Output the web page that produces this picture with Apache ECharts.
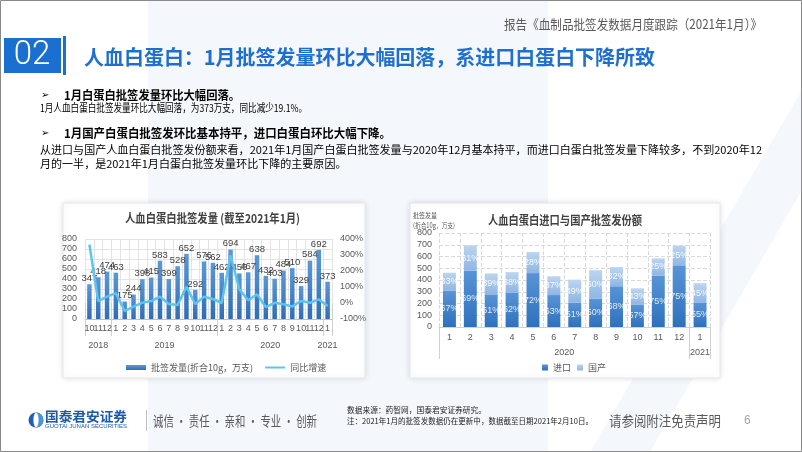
<!DOCTYPE html>
<html><head><meta charset="utf-8">
<script src="https://cdn.jsdelivr.net/npm/echarts@6/dist/echarts.min.js"></script>
<style>html,body{margin:0;padding:0;background:#fff}#c{width:802px;height:452px}</style>
</head><body><div id="c"></div>
<script>
// ---------- data ----------
const monthLabelsA = ['10','11','12','1','2','3','4','5','6','7','8','9','10','11','12','1','2','3','4','5','6','7','8','9','10','11','12','1'];
const yearLabelsA = ['2018','2019','2020','2021'];
const yearSizesA = [3, 12, 12, 1];
const issueVolume = [347,418,474,463,175,244,398,415,583,399,528,652,292,576,562,462,694,456,467,638,432,403,484,510,329,584,692,373];
const yoyGrowth = [365,12,40,62,-50,-23,2,12,40,-6,-12,102,-6,40,25,0,297,85,17,54,-26,1,-8,-22,13,1,23,-19.1];

const monthLabelsB = ['1','2','3','4','5','6','7','8','9','10','11','12','1'];
const yearLabelsB = ['2020','2021'];
const yearSizesB = [12, 1];
const importVol   = [310,479,278,290,459,272,206,242,347,188,438,519,205];
const domesticVol = [152,215,178,177,179,160,197,242,163,141,146,173,168];

const seriesNamesA = ['批签发量(折合10g，万支)', '同比增速'];
const seriesNamesB = ['进口', '国产'];

// ---------- helpers ----------
const FONT = '"Noto Sans CJK SC", "Noto Sans", sans-serif';
const NUMFONT = '"Liberation Sans", "Noto Sans CJK SC", sans-serif';
const mctx = document.createElement('canvas').getContext('2d');
function measure(s, size, weight, family) {
  mctx.font = (weight || 'normal') + ' ' + size + 'px ' + (family || FONT);
  return mctx.measureText(s).width;
}
function txt(s, x, y, w, size, opt) {
  opt = opt || {};
  const weight = opt.weight || 'normal';
  const family = opt.family || FONT;
  const m = measure(s, size, weight, family);
  const sx = opt.scale ? opt.scale : (w ? w / m : 1);
  return { type: 'text', x: x, y: y, scaleX: sx, z: 10, silent: true,
    style: { text: s, x: 0, y: 0, fontSize: size, fontWeight: weight, fontFamily: family,
      fill: opt.color || '#333', align: opt.align || 'left', verticalAlign: 'middle',
      textAlign: opt.align || 'left', textVerticalAlign: 'middle' } };
}
function groupInfo(sizes) {
  const bounds = [0], mids = [];
  let acc = 0;
  sizes.forEach(n => { mids.push(acc + n / 2); acc += n; bounds.push(acc); });
  return { bounds, mids, total: acc };
}
const gA = groupInfo(yearSizesA);
const gB = groupInfo(yearSizesB);

const chart = echarts.init(document.getElementById('c'), null, { renderer: 'canvas' });

const barGradA = new echarts.graphic.LinearGradient(0, 0, 0, 1, [
  { offset: 0, color: '#5a98d8' }, { offset: 1, color: '#2f6eb6' }]);
const impGrad = new echarts.graphic.LinearGradient(0, 0, 0, 1, [
  { offset: 0, color: '#5894d6' }, { offset: 1, color: '#2d71bd' }]);
const domGrad = new echarts.graphic.LinearGradient(0, 0, 0, 1, [
  { offset: 0, color: '#bcd5f0' }, { offset: 1, color: '#8fb6e3' }]);

const gray = '#595959';
const longLine = '从进口与国产人血白蛋白批签发份额来看，2021年1月国产白蛋白批签发量与2020年12月基本持平，而进口白蛋白批签发量下降较多，不到2020年12';
const bodyScale = 722 / measure(longLine, 11);

const elements = [
  // background tint
  { type: 'rect', z: -5, silent: true, shape: { x: 148, y: 0, width: 400, height: 452 }, style: { fill: '#f4f7fb' } },
  { type: 'polygon', z: -5, silent: true, shape: { points: [[802, 90], [802, 190], [650, 452], [590, 452]] }, style: { fill: '#f4f7fb' } },
  // slide border
  { type: 'rect', z: 20, silent: true, shape: { x: 0.5, y: 0.5, width: 801, height: 451 }, style: { fill: 'none', stroke: '#8a8a8a', lineWidth: 1 } },
  // cards
  { type: 'rect', z: -4, silent: true, shape: { x: 63, y: 203, width: 302, height: 175 },
    style: { fill: '#fff', stroke: '#e4e8ee', lineWidth: 1, shadowBlur: 6, shadowColor: 'rgba(0,0,0,0.12)' } },
  { type: 'rect', z: -4, silent: true, shape: { x: 410, y: 203, width: 310, height: 175 },
    style: { fill: '#fff', stroke: '#e4e8ee', lineWidth: 1, shadowBlur: 6, shadowColor: 'rgba(0,0,0,0.12)' } },
  // header
  txt('报告《血制品批签发数据月度跟踪（2021年1月）》', 504, 24, 258, 13, { color: gray }),
  { type: 'rect', z: 5, silent: true, shape: { x: 4, y: 38, width: 57, height: 35 }, style: { fill: '#1a6fd0' } },
  { type: 'text', z: 10, silent: true, x: 32, y: 56,
    style: { text: '02', fontSize: 33, fontWeight: 300, fontFamily: 'Roboto, "Noto Sans", sans-serif', fill: '#fff', align: 'center', verticalAlign: 'middle' } },
  { type: 'rect', z: 5, silent: true, shape: { x: 63, y: 36, width: 3, height: 39 }, style: { fill: '#1a6fd0' } },
  txt('人血白蛋白：1月批签发量环比大幅回落，系进口白蛋白下降所致', 84, 57, 571, 20, { weight: 'bold', color: '#1f6fcf' }),
  // body
  txt('➢', 41, 95, 0, 10, { family: '"DejaVu Sans", sans-serif', color: '#000' }),
  txt('1月白蛋白批签发量环比大幅回落。', 64, 95, 176, 12, { weight: 'bold', color: '#000' }),
  txt('1月人血白蛋白批签发量环比大幅回落，为373万支，同比减少19.1%。', 40, 108, 267, 11, { color: '#000' }),
  txt('➢', 41, 133, 0, 10, { family: '"DejaVu Sans", sans-serif', color: '#000' }),
  txt('1月国产白蛋白批签发环比基本持平，进口白蛋白环比大幅下降。', 64, 133, 327, 12, { weight: 'bold', color: '#000' }),
  txt(longLine, 40, 150, 0, 11, { color: '#000', scale: bodyScale }),
  txt('月的一半，是2021年1月白蛋白批签发量环比下降的主要原因。', 40, 164, 0, 11, { color: '#000', scale: bodyScale }),
  // chart titles
  txt('人血白蛋白批签发量 (截至2021年1月)', 125, 218, 175, 12, { weight: 'bold', color: '#404040' }),
  txt('人血白蛋白进口与国产批签发份额', 488, 220, 154, 12, { weight: 'bold', color: '#404040' }),
  txt('批签发量', 413, 215, 24, 7, { color: gray }),
  txt('(折合10g，万支)', 413, 225, 42, 7, { color: gray }),
  // footer
  { type: 'circle', z: 10, silent: true, shape: { cx: 36, cy: 420, r: 7.5 }, style: { fill: '#1c5fb5' } },
  { type: 'rect', z: 10, silent: true, shape: { x: 36, y: 412, width: 7.5, height: 16, r: 0 }, style: { fill: '#4a94db' },
    clipPath: { type: 'circle', shape: { cx: 36, cy: 420, r: 7.5 } } },
  { type: 'ellipse', z: 11, silent: true, shape: { cx: 36, cy: 420, rx: 2.6, ry: 7.2 }, style: { fill: '#fff' } },
  txt('国泰君安证券', 45, 416, 82, 13, { weight: 'bold', color: '#1c5aa8' }),
  txt('GUOTAI JUNAN SECURITIES', 45, 426.5, 82, 5, { family: NUMFONT, color: '#1c5aa8' }),
  { type: 'rect', z: 10, silent: true, shape: { x: 146, y: 410, width: 1, height: 21 }, style: { fill: '#bfbfbf' } },
  txt('诚信 · 责任 · 亲和 · 专业 · 创新', 153, 421, 164, 14, { color: gray }),
  txt('数据来源：药智网，国泰君安证券研究。', 347, 410, 139, 8, { color: '#222' }),
  txt('注：2021年1月的批签发数据仍在更新中，数据截至日期2021年2月10日。', 347, 421, 246, 8, { color: '#222' }),
  txt('请参阅附注免责声明', 609, 421, 112, 14, { color: gray }),
  txt('6', 744, 421, 0, 12, { family: NUMFONT, color: '#a6a6a6' })
];

const axLbl = { fontSize: 9, color: gray, fontFamily: NUMFONT };

const option = {
  animation: false,
  graphic: { elements: elements },
  legend: [
    { left: 121, top: 358, itemWidth: 20, itemHeight: 5, itemGap: 12,
      data: [{ name: seriesNamesA[0], icon: 'rect' },
             { name: seriesNamesA[1], icon: 'path://M0,0 L20,0 L20,2 L0,2 Z' }],
      textStyle: { fontSize: 9, color: gray, fontFamily: FONT } },
    { left: 537, top: 358, itemWidth: 6, itemHeight: 6, itemGap: 6, icon: 'rect', data: seriesNamesB,
      textStyle: { fontSize: 9, color: gray, fontFamily: FONT } }
  ],
  grid: [
    { left: 85, right: 802 - 332, top: 239, bottom: 452 - 319, outerBoundsMode: 'none', containLabel: false },
    { left: 439, right: 802 - 710.5, top: 233, bottom: 452 - 327, outerBoundsMode: 'none', containLabel: false }
  ],
  xAxis: [
    { type: 'category', gridIndex: 0, data: monthLabelsA, position: 'bottom',
      axisLine: { lineStyle: { color: '#bfbfbf' } }, axisTick: { show: false },
      axisLabel: Object.assign({ interval: 0, margin: 5 }, axLbl),
      splitLine: { show: true, interval: 0, lineStyle: { color: '#e3e3e3' } } },
    { type: 'value', gridIndex: 0, min: 0, max: gA.total, position: 'bottom',
      axisLine: { show: false }, splitLine: { show: false },
      axisTick: { show: true, customValues: gA.bounds, length: 33, lineStyle: { color: '#d0d0d0' } },
      axisLabel: Object.assign({ customValues: gA.mids, margin: 22,
        formatter: v => { const i = gA.mids.indexOf(v); return i >= 0 ? yearLabelsA[i] : ''; } }, axLbl) },
    { type: 'category', gridIndex: 1, data: monthLabelsB, position: 'bottom',
      axisLine: { lineStyle: { color: '#d0d0d0' } }, axisTick: { show: false },
      axisLabel: Object.assign({ interval: 0, margin: 6 }, axLbl),
      splitLine: { show: true, interval: 0, lineStyle: { color: '#d9d9d9', type: 'dashed' } } },
    { type: 'value', gridIndex: 1, min: 0, max: gB.total, position: 'bottom',
      axisLine: { show: false }, splitLine: { show: false },
      axisTick: { show: true, customValues: gB.bounds, length: 32, lineStyle: { color: '#d0d0d0' } },
      axisLabel: Object.assign({ customValues: gB.mids, margin: 21,
        formatter: v => { const i = gB.mids.indexOf(v); return i >= 0 ? yearLabelsB[i] : ''; } }, axLbl) }
  ],
  yAxis: [
    { type: 'value', gridIndex: 0, min: 0, max: 800, interval: 100, position: 'left',
      axisLine: { show: false }, axisTick: { show: false }, axisLabel: Object.assign({ margin: 8 }, axLbl),
      splitLine: { lineStyle: { color: '#e3e3e3' } } },
    { type: 'value', gridIndex: 0, min: -100, max: 400, interval: 100, position: 'right',
      axisLine: { show: false }, axisTick: { show: false },
      axisLabel: Object.assign({ margin: 8, formatter: '{value}%' }, axLbl), splitLine: { show: false } },
    { type: 'value', gridIndex: 1, min: 0, max: 800, interval: 100, position: 'left',
      axisLine: { show: false }, axisTick: { show: false }, axisLabel: Object.assign({ margin: 7 }, axLbl),
      splitLine: { lineStyle: { color: '#d9d9d9', type: 'dashed' } } }
  ],
  series: [
    { name: seriesNamesA[0], type: 'bar', xAxisIndex: 0, yAxisIndex: 0, data: issueVolume, barWidth: 4.5,
      itemStyle: { color: barGradA },
      label: { show: true, position: 'top', distance: 1, fontSize: 9.5, color: '#404040', fontFamily: NUMFONT } },
    { name: seriesNamesA[1], type: 'line', xAxisIndex: 0, yAxisIndex: 1, data: yoyGrowth, symbol: 'none',
      lineStyle: { width: 2.5, color: '#5cc4ef' }, itemStyle: { color: '#5cc4ef' }, z: 3 },
    { name: seriesNamesB[0], type: 'bar', stack: 'b', xAxisIndex: 2, yAxisIndex: 2, data: importVol, barWidth: '62%',
      itemStyle: { color: impGrad },
      label: { show: true, position: 'inside', fontSize: 9, color: 'rgba(255,255,255,0.85)', fontFamily: NUMFONT,
        formatter: p => Math.round(importVol[p.dataIndex] / (importVol[p.dataIndex] + domesticVol[p.dataIndex]) * 100) + '%' } },
    { name: seriesNamesB[1], type: 'bar', stack: 'b', xAxisIndex: 2, yAxisIndex: 2, data: domesticVol, barWidth: '62%',
      itemStyle: { color: domGrad },
      label: { show: true, position: 'inside', fontSize: 9, color: 'rgba(255,255,255,0.9)', fontFamily: NUMFONT,
        formatter: p => Math.round(domesticVol[p.dataIndex] / (importVol[p.dataIndex] + domesticVol[p.dataIndex]) * 100) + '%' } }
  ]
};
chart.setOption(option);
</script>
</body></html>
